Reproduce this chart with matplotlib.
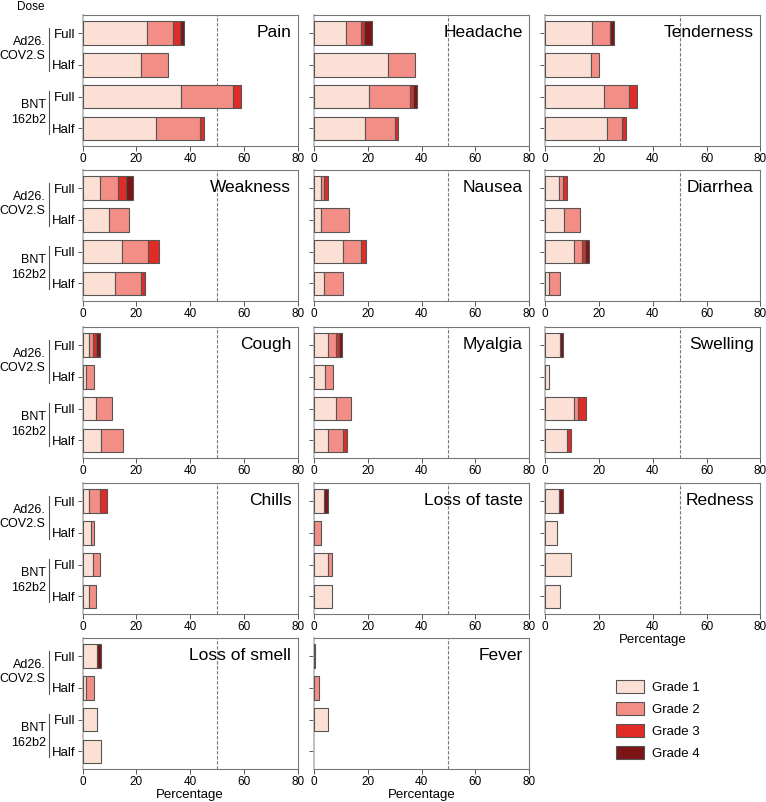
import matplotlib
matplotlib.use("Agg")
import matplotlib.pyplot as plt
import matplotlib.transforms as mtransforms
from matplotlib.patches import Patch
import numpy as np

plt.rcParams["font.family"] = ["Liberation Sans", "DejaVu Sans"]

# rows: Ad26 Full, Ad26 Half, BNT Full, BNT Half ; columns: grade 1..4
symptoms = ["Pain", "Headache", "Tenderness", "Weakness", "Nausea", "Diarrhea",
            "Cough", "Myalgia", "Swelling", "Chills", "Loss of taste", "Redness",
            "Loss of smell", "Fever"]

pain = [[24.0, 9.6, 2.6, 1.5], [21.6, 10.3, 0, 0], [36.7, 19.3, 2.9, 0], [27.4, 16.3, 1.5, 0]]
headache = [[11.9, 5.5, 1.2, 3.0], [27.4, 10.3, 0, 0], [20.5, 15.1, 1.2, 1.5], [19.1, 10.9, 1.2, 0]]
tenderness = [[17.5, 6.6, 0, 1.6], [17.1, 3.0, 0, 0], [21.7, 9.6, 2.9, 0], [23.1, 5.6, 1.5, 0]]
weakness = [[6.6, 6.7, 2.8, 2.8], [9.9, 7.5, 0, 0], [14.8, 9.6, 4.1, 0], [12.0, 9.7, 1.4, 0]]
nausea = [[2.6, 1.2, 1.3, 0], [2.7, 10.2, 0, 0], [10.9, 6.7, 1.6, 0], [3.8, 7.0, 0, 0]]
diarrhea = [[5.2, 1.5, 1.2, 0], [7.1, 5.9, 0, 0], [10.8, 2.7, 1.3, 1.6], [1.2, 4.1, 0, 0]]
cough = [[2.5, 1.3, 1.3, 1.4], [1.4, 2.9, 0, 0], [5.1, 5.7, 0, 0], [6.7, 8.2, 0, 0]]
myalgia = [[5.2, 2.8, 1.2, 1.4], [4.2, 2.9, 0, 0], [8.2, 5.4, 0, 0], [5.2, 5.6, 1.3, 0]]
swelling = [[5.3, 0, 0, 1.4], [1.2, 0, 0, 0], [10.8, 1.5, 2.7, 0], [8.2, 0, 1.2, 0]]
chills = [[2.5, 4.1, 2.6, 0], [3.0, 1.3, 0, 0], [4.0, 2.6, 0, 0], [2.5, 2.6, 0, 0]]
loss_taste = [[3.7, 0, 0, 1.5], [0, 2.6, 0, 0], [5.2, 1.4, 0, 0], [6.7, 0, 0, 0]]
redness = [[5.1, 0, 0, 1.6], [4.2, 0, 0, 0], [9.4, 0, 0, 0], [5.3, 0, 0, 0]]
loss_smell = [[5.2, 0, 0, 1.5], [1.4, 2.9, 0, 0], [5.2, 0, 0, 0], [6.7, 0, 0, 0]]
fever = [[0, 0, 0, 0.3], [0, 1.7, 0, 0], [5.2, 0, 0, 0], [0, 0, 0, 0]]

data = [pain, headache, tenderness, weakness, nausea, diarrhea, cough, myalgia,
        swelling, chills, loss_taste, redness, loss_smell, fever]

doses = ["Full", "Half", "Full", "Half"]
groups = ["Ad26.\nCOV2.S", "BNT\n162b2"]
grades = ["Grade 1", "Grade 2", "Grade 3", "Grade 4"]
colors = ["#fde0d5", "#f38e86", "#e02b26", "#7d1416"]

fig = plt.figure(figsize=(7.66, 8.02), dpi=100)
W, H = 766, 802
lefts = [82.7, 314, 545.3]
tops = [15, 170, 327, 483, 638]
aw, ah = 215, 131

ypos = np.arange(4)
for i, (name, vals) in enumerate(zip(symptoms, data)):
    r, c = divmod(i, 3)
    ax = fig.add_axes([lefts[c] / W, 1 - (tops[r] + ah) / H, aw / W, ah / H])
    vals = np.array(vals)
    left = np.zeros(4)
    for g in range(4):
        m = vals[:, g] > 0
        ax.barh(ypos[m], vals[m, g], left=left[m], height=0.74, color=colors[g],
                edgecolor="#555555", linewidth=0.8, zorder=3)
        left += vals[:, g]
    ax.axvline(50, color="#777777", linestyle="--", linewidth=0.8, dashes=(3, 1.5), zorder=1)
    ax.set_xlim(0, 80)
    ax.set_ylim(3.56, -0.57)
    ax.set_xticks([0, 20, 40, 60, 80])
    ax.set_yticks(ypos)
    ax.tick_params(axis="both", labelsize=8.5, length=3.5, width=0.7, color="#555555", pad=1.5)
    for s in ax.spines.values():
        s.set_color("#777777")
        s.set_linewidth(0.8)
    ax.spines["left"].set_color("#bbbbbb")
    ax.spines["left"].set_linewidth(1.3)
    ax.text(0.97, 0.87, name, transform=ax.transAxes, ha="right", va="center", fontsize=12.5)
    if c == 0:
        ax.set_yticklabels(doses, fontsize=9.5)
        trans = mtransforms.blended_transform_factory(ax.transAxes, ax.transData)
        for k, gname in enumerate(groups):
            y0, y1 = 2 * k - 0.17, 2 * k + 1.18
            ax.plot([-0.157, -0.157], [y0, y1], transform=trans, color="#555555",
                    linewidth=0.8, clip_on=False)
            ax.text(-0.172, 2 * k + 0.5, gname, transform=trans, ha="right", va="center",
                    fontsize=9, linespacing=1.3)
        if r == 0:
            ax.text(-0.24, 1.06, "Dose", transform=ax.transAxes, ha="center", va="center",
                    fontsize=8.5)
    else:
        ax.set_yticklabels([])
    if (r == 4) or (r == 3 and c == 2):
        ax.set_xlabel("Percentage", fontsize=9.5, labelpad=1)

handles = [Patch(facecolor=colors[g], edgecolor="#555555", linewidth=0.8) for g in range(4)]
fig.legend(handles, grades, loc="upper left", bbox_to_anchor=(604 / W, 1 - 668 / H),
           frameon=False, fontsize=9.5, handlelength=2.1, handleheight=1.15,
           labelspacing=0.6, handletextpad=0.6)

fig.savefig("out.png", dpi=100)
